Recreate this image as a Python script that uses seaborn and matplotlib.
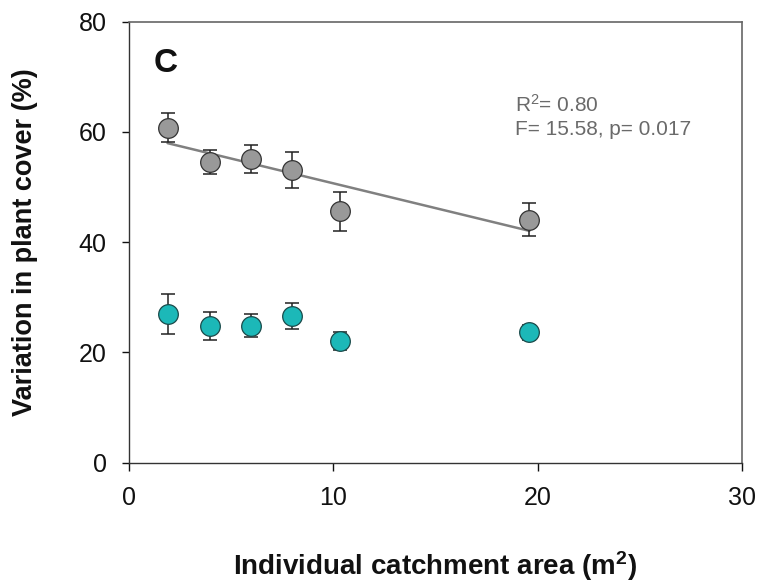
import matplotlib
matplotlib.use("Agg")
import matplotlib.pyplot as plt
import seaborn as sns
import numpy as np
import pandas as pd

area = [1.9, 4.0, 6.0, 8.0, 10.35, 19.6]
gray_mean = [60.8, 54.5, 55.1, 53.1, 45.6, 44.1]
gray_err = [2.7, 2.2, 2.6, 3.2, 3.5, 3.0]
teal_mean = [27.0, 24.8, 24.8, 26.6, 22.1, 23.6]
teal_err = [3.6, 2.6, 2.1, 2.3, 1.6, 1.3]
x_ticks = [0, 10, 20, 30]
y_ticks = [0, 20, 40, 60, 80]

sns.set_style("white")
plt.rcParams['font.family'] = ['Liberation Sans', 'DejaVu Sans']
plt.rcParams['mathtext.fontset'] = 'custom'
plt.rcParams['mathtext.rm'] = 'Liberation Sans'
plt.rcParams['mathtext.it'] = 'Liberation Sans:italic'
plt.rcParams['mathtext.bf'] = 'Liberation Sans:bold'

df_g = pd.DataFrame({"area": area, "mean": gray_mean, "err": gray_err})
df_t = pd.DataFrame({"area": area, "mean": teal_mean, "err": teal_err})

fig = plt.figure(figsize=(7.59, 5.84), dpi=100)
ax = fig.add_axes([0.1696, 0.208, 0.8080, 0.7548])

gray_c = "#999999"
teal_c = "#1cb8b8"

sns.regplot(data=df_g, x="area", y="mean", scatter=False, ci=None, truncate=True,
            color="#808080", line_kws={"lw": 1.8, "zorder": 2}, ax=ax)

for df in (df_g, df_t):
    ax.errorbar(df["area"], df["mean"], yerr=df["err"], fmt="none", ecolor="#222222",
                elinewidth=1.1, capsize=5, capthick=1.1, zorder=3)

sns.scatterplot(data=df_g, x="area", y="mean", s=200, color=gray_c, edgecolor="#333333",
                linewidth=0.9, zorder=4, ax=ax)
sns.scatterplot(data=df_t, x="area", y="mean", s=200, color=teal_c, edgecolor="#1a4a4a",
                linewidth=0.9, zorder=4, ax=ax)

ax.set_xlim(0, 30)
ax.set_ylim(0, 80)
ax.set_xticks(x_ticks)
ax.set_yticks(y_ticks)
ax.tick_params(axis="both", direction="out", labelsize=18, colors="#111111",
               bottom=True, left=True, top=False, right=False)
ax.tick_params(axis="x", length=6, width=1, pad=11)
ax.tick_params(axis="y", length=5, width=1, pad=11)

for s in ("left", "bottom"):
    ax.spines[s].set_color("#333333")
    ax.spines[s].set_linewidth(1.0)
for s in ("top", "right"):
    ax.spines[s].set_color("#666666")
    ax.spines[s].set_linewidth(1.2)

ax.set_xlabel(r"Individual catchment area (m$^\mathbf{2}$)", fontsize=20, fontweight="bold",
              color="#111111", va="center")
ax.xaxis.set_label_coords(0.5, -0.235)
ax.set_ylabel("Variation in plant cover (%)", fontsize=19.5, fontweight="bold",
              color="#111111", va="center")
ax.yaxis.set_label_coords(-0.169, 0.5)

ax.text(0.041, 0.906, "C", transform=ax.transAxes, fontsize=24, fontweight="bold",
        ha="left", va="center", color="#111111")
ax.text(18.9, 63.6, r"R$^2$= 0.80", fontsize=15, color="#6a6a6a", ha="left", va="baseline")
ax.text(18.9, 59.5, "F= 15.58, p= 0.017", fontsize=15, color="#6a6a6a", ha="left", va="baseline")

fig.savefig("out.png", dpi=100)
